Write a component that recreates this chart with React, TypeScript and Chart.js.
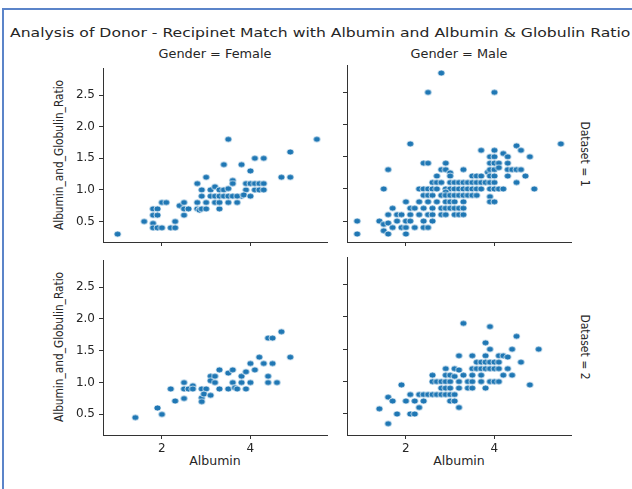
import React, { useEffect, useRef } from 'react';
import { Chart, registerables } from 'chart.js';

Chart.register(...registerables);

const titleText = 'Analysis of Donor - Recipinet Match with Albumin and Albumin & Globulin Ratio';
const colTitles = ['Gender = Female', 'Gender = Male'];
const rowTitles = ['Dataset = 1', 'Dataset = 2'];
const xLabel = 'Albumin';
const yLabel = 'Albumin_and_Globulin_Ratio';
const xTicks = [2, 4];
const yTicks = [0.5, 1.0, 1.5, 2.0, 2.5];
const xRange = [0.67, 5.73];
const yRange = [0.175, 2.925];

type Pt = [number, number];

const femaleDataset1: Pt[] = [
  [1.0, 0.3], [1.6, 0.5], [1.8, 0.7], [1.9, 0.7], [1.8, 0.6], [1.9, 0.6], [1.8, 0.47], [1.8, 0.4],
  [1.9, 0.4], [2.0, 0.8], [2.1, 0.8], [2.0, 0.4], [2.2, 0.4], [2.3, 0.4], [2.3, 0.5], [2.4, 0.75],
  [2.5, 0.8], [2.5, 0.6], [2.5, 0.7], [2.6, 0.7], [2.8, 1.1], [2.8, 0.7], [2.8, 0.8], [2.85, 0.68],
  [2.9, 1.0], [2.9, 0.9], [2.9, 0.7], [3.0, 1.2], [3.0, 0.8], [3.0, 0.7], [3.1, 1.0], [3.2, 1.05],
  [3.1, 0.9], [3.2, 0.9], [3.2, 0.8], [3.3, 1.0], [3.3, 0.9], [3.3, 0.7], [3.3, 0.8], [3.4, 1.4],
  [3.4, 1.0], [3.4, 0.9], [3.5, 1.8], [3.5, 1.02], [3.5, 0.9], [3.5, 0.8], [3.6, 1.15], [3.6, 1.1],
  [3.6, 0.9], [3.7, 0.8], [3.8, 1.4], [3.8, 0.9], [3.7, 0.9], [3.9, 1.0], [3.9, 1.1], [3.85, 0.92],
  [4.0, 1.3], [4.0, 1.1], [4.0, 0.9], [4.1, 1.5], [4.1, 1.0], [4.1, 1.1], [4.2, 1.1], [4.2, 1.0],
  [4.3, 1.5], [4.3, 1.1], [4.3, 1.0], [4.7, 1.2], [4.9, 1.6], [4.9, 1.2], [5.5, 1.8],
];

const maleDataset1: Pt[] = [
  [2.8, 2.8], [2.5, 2.5], [4.0, 2.5], [2.1, 1.7], [5.5, 1.7], [4.5, 1.67],
  [3.7, 1.6], [4.0, 1.6], [4.6, 1.6],
  [3.9, 1.5], [4.0, 1.5], [4.2, 1.55], [4.3, 1.5], [4.8, 1.5],
  [2.4, 1.4], [2.5, 1.4], [2.9, 1.4], [3.9, 1.4], [4.0, 1.4], [4.3, 1.4], [4.1, 1.4],
  [1.6, 1.3], [2.8, 1.3], [2.9, 1.3], [3.3, 1.3], [3.85, 1.26], [3.9, 1.3], [4.0, 1.3], [4.3, 1.3],
  [4.4, 1.3], [4.5, 1.3], [4.6, 1.3], [3.0, 1.25], [4.1, 1.33],
  [2.7, 1.2], [3.0, 1.2], [3.5, 1.2], [3.6, 1.2], [3.7, 1.2], [3.9, 1.2], [4.0, 1.2], [4.3, 1.2], [4.7, 1.2],
  [2.6, 1.1], [2.7, 1.1], [2.8, 1.1], [3.0, 1.1], [3.1, 1.1], [3.2, 1.1], [3.3, 1.1], [3.4, 1.1],
  [3.5, 1.1], [3.6, 1.1], [3.7, 1.1], [3.8, 1.1], [3.9, 1.1], [4.0, 1.1], [4.5, 1.1],
  [1.5, 1.0], [2.3, 1.0], [2.4, 1.0], [2.5, 1.0], [2.6, 1.0], [2.7, 1.0], [2.9, 1.0], [3.0, 1.0],
  [3.1, 1.0], [3.2, 1.0], [3.3, 1.0], [3.4, 1.0], [3.5, 1.0], [3.6, 1.0], [3.7, 1.0], [3.9, 1.0],
  [4.0, 1.0], [4.1, 1.0], [4.2, 1.0], [4.9, 1.0],
  [2.9, 0.95], [3.9, 0.88],
  [2.4, 0.9], [2.5, 0.9], [2.6, 0.9], [2.8, 0.9], [2.9, 0.9], [3.0, 0.9], [3.1, 0.9], [3.2, 0.9],
  [3.3, 0.9], [3.4, 0.9], [3.5, 0.9], [3.6, 0.9],
  [2.0, 0.8], [2.3, 0.8], [2.5, 0.8], [2.7, 0.8], [2.9, 0.8], [3.0, 0.8], [3.1, 0.8], [3.3, 0.8],
  [3.9, 0.8], [4.0, 0.8],
  [1.7, 0.7], [2.1, 0.7], [2.2, 0.7], [2.4, 0.7], [2.6, 0.7], [2.8, 0.7], [2.9, 0.7], [3.0, 0.7],
  [3.1, 0.7], [3.2, 0.7], [3.3, 0.7],
  [1.6, 0.6], [1.8, 0.6], [1.9, 0.6], [2.1, 0.6], [2.3, 0.6], [2.5, 0.6], [2.6, 0.6], [2.8, 0.6],
  [2.9, 0.6], [3.1, 0.6], [3.2, 0.6], [3.3, 0.6],
  [0.9, 0.5], [1.4, 0.5], [1.8, 0.5], [2.0, 0.5], [2.1, 0.5], [2.4, 0.5], [2.6, 0.5],
  [1.5, 0.45], [1.6, 0.47],
  [1.7, 0.4], [1.9, 0.4], [2.0, 0.4], [2.2, 0.4], [2.4, 0.4], [2.5, 0.4],
  [1.5, 0.35], [0.9, 0.3], [1.6, 0.3], [2.0, 0.3],
];

const femaleDataset2: Pt[] = [
  [1.4, 0.45], [1.9, 0.6], [2.0, 0.5], [2.2, 0.9], [2.3, 0.71], [2.5, 1.0], [2.5, 0.9], [2.5, 0.75],
  [2.6, 0.9], [2.7, 0.95], [2.7, 0.9], [2.9, 0.9], [2.9, 0.76], [2.9, 0.7], [3.0, 0.9], [2.95, 0.82],
  [3.1, 1.1], [3.1, 1.03], [3.1, 0.8], [3.2, 1.1], [3.2, 1.0], [3.3, 1.2], [3.3, 0.9], [3.5, 1.15],
  [3.5, 0.9], [3.6, 1.2], [3.6, 1.0], [3.65, 0.92], [3.7, 0.9], [3.8, 1.1], [3.8, 1.0], [3.9, 1.17],
  [3.9, 0.9], [4.0, 1.3], [4.0, 1.0], [4.1, 1.2], [4.2, 1.4], [4.3, 1.3], [4.4, 1.7], [4.4, 1.1],
  [4.4, 1.0], [4.5, 1.7], [4.5, 1.3], [4.6, 1.0], [4.7, 1.8], [4.9, 1.4],
];

const maleDataset2: Pt[] = [
  [3.3, 1.9], [3.9, 1.85], [4.5, 1.7], [3.8, 1.6],
  [3.9, 1.5], [4.4, 1.5], [5.0, 1.5],
  [3.2, 1.4], [3.5, 1.4], [3.8, 1.4], [4.1, 1.4], [4.2, 1.4], [4.3, 1.38],
  [3.6, 1.3], [3.7, 1.3], [3.8, 1.3], [3.9, 1.3], [4.0, 1.3], [4.1, 1.3], [4.6, 1.3],
  [2.9, 1.2], [3.1, 1.2], [3.2, 1.18], [3.5, 1.2], [3.6, 1.2], [3.7, 1.2], [3.8, 1.2], [3.9, 1.2],
  [4.0, 1.2], [4.1, 1.2], [4.3, 1.2],
  [2.6, 1.1], [2.9, 1.1], [3.0, 1.1], [3.1, 1.08], [3.3, 1.1], [3.5, 1.1], [3.7, 1.1], [4.2, 1.1], [4.4, 1.1],
  [2.6, 1.0], [2.7, 1.0], [2.8, 1.0], [2.9, 1.0], [3.0, 1.0], [3.2, 1.0], [3.4, 1.0], [3.5, 1.0],
  [3.7, 1.0], [3.9, 1.0], [4.0, 1.0], [4.1, 1.0],
  [1.9, 0.95], [4.8, 0.95],
  [2.8, 0.9], [2.9, 0.9], [3.0, 0.9], [3.2, 0.9], [3.4, 0.9], [3.5, 0.9], [3.8, 0.9],
  [2.1, 0.8], [2.3, 0.8], [2.4, 0.8], [2.5, 0.8], [2.6, 0.8], [2.7, 0.8], [2.8, 0.8], [2.9, 0.8],
  [3.0, 0.8], [3.1, 0.8],
  [1.6, 0.76], [1.7, 0.7], [2.0, 0.7], [2.2, 0.7], [2.4, 0.7], [3.0, 0.7], [3.1, 0.7],
  [2.3, 0.6], [3.2, 0.6], [1.4, 0.58],
  [1.8, 0.5], [2.1, 0.5], [2.2, 0.5], [1.6, 0.35],
];

const FONT = '"DejaVu Sans", sans-serif';
const INK = '#262626';
const LINE = '#333333';

type Rect = { l: number; t: number; r: number; b: number };

const PAD_L = 45;
const PAD_T = 8;
const PAD_R = 8;
const PAD_B = 25;

function makeDot(): HTMLCanvasElement {
  const c = document.createElement('canvas');
  c.width = 9;
  c.height = 8;
  const ctx = c.getContext('2d')!;
  ctx.beginPath();
  ctx.ellipse(4.5, 4, 3.6, 3.0, 0, 0, Math.PI * 2);
  ctx.fillStyle = '#1f77b4';
  ctx.fill();
  ctx.lineWidth = 0.7;
  ctx.strokeStyle = '#ffffff';
  ctx.stroke();
  return c;
}

function Panel({ data, rect, showX, showY }: { data: Pt[]; rect: Rect; showX: boolean; showY: boolean }) {
  const ref = useRef<HTMLCanvasElement>(null);
  const w = rect.r - rect.l + PAD_L + PAD_R;
  const h = rect.b - rect.t + PAD_T + PAD_B;
  useEffect(() => {
    const dot = makeDot();
    const chart = new Chart(ref.current!, {
      type: 'scatter',
      data: {
        datasets: [
          {
            data: data.map(([x, y]) => ({ x, y })),
            pointStyle: dot as any,
            pointRadius: 4,
            backgroundColor: '#1f77b4',
            borderColor: '#ffffff',
          },
        ],
      },
      options: {
        animation: false,
        responsive: false,
        maintainAspectRatio: false,
        events: [],
        layout: { padding: { left: 0, top: PAD_T, right: PAD_R, bottom: 0 } },
        plugins: { legend: { display: false }, tooltip: { enabled: false } },
        scales: {
          x: {
            type: 'linear',
            min: xRange[0],
            max: xRange[1],
            afterBuildTicks: (s: any) => {
              s.ticks = xTicks.map((v) => ({ value: v }));
            },
            afterFit: (s: any) => {
              s.height = PAD_B;
            },
            grid: { display: true, drawOnChartArea: false, drawTicks: true, tickLength: 4, color: LINE, lineWidth: 1 },
            border: { display: true, color: LINE, width: 1 },
            ticks: {
              display: showX,
              autoSkip: false,
              maxRotation: 0,
              padding: 3,
              color: INK,
              font: { family: FONT, size: 12 },
              callback: (v: any) => String(v),
            },
          },
          y: {
            type: 'linear',
            min: yRange[0],
            max: yRange[1],
            afterBuildTicks: (s: any) => {
              s.ticks = yTicks.map((v) => ({ value: v }));
            },
            afterFit: (s: any) => {
              s.width = PAD_L;
            },
            grid: { display: true, drawOnChartArea: false, drawTicks: true, tickLength: 4, color: LINE, lineWidth: 1 },
            border: { display: true, color: LINE, width: 1 },
            ticks: {
              display: showY,
              autoSkip: false,
              padding: 4,
              color: INK,
              font: { family: FONT, size: 12 },
              callback: (v: any) => Number(v).toFixed(1),
            },
          },
        },
      },
    });
    return () => chart.destroy();
  }, []);
  return (
    <canvas
      ref={ref}
      width={w}
      height={h}
      style={{ position: 'absolute', left: rect.l - PAD_L, top: rect.t - PAD_T, width: w, height: h }}
    />
  );
}

function Label({ text, cx, cy, size, sx = 1, rot = 0 }: { text: string; cx: number; cy: number; size: number; sx?: number; rot?: number }) {
  return (
    <div
      style={{
        position: 'absolute',
        left: cx,
        top: cy,
        transform: `translate(-50%, -50%) rotate(${rot}deg) scaleX(${sx})`,
        fontFamily: FONT,
        fontSize: size,
        lineHeight: 1,
        whiteSpace: 'nowrap',
        color: INK,
      }}
    >
      {text}
    </div>
  );
}

const panels: { data: Pt[]; rect: Rect; showX: boolean; showY: boolean }[] = [
  { data: femaleDataset1, rect: { l: 103, t: 65, r: 327, b: 242 }, showX: false, showY: true },
  { data: maleDataset1, rect: { l: 347, t: 65, r: 571, b: 242 }, showX: false, showY: false },
  { data: femaleDataset2, rect: { l: 103, t: 257, r: 327, b: 435 }, showX: true, showY: true },
  { data: maleDataset2, rect: { l: 347, t: 257, r: 571, b: 435 }, showX: true, showY: false },
];

export default function App() {
  return (
    <div style={{ position: 'absolute', left: 0, top: 0, width: 632, height: 489, overflow: 'hidden', background: '#fff' }}>
      <div
        style={{
          position: 'absolute',
          left: 2,
          top: 8,
          width: 800,
          height: 700,
          borderTop: '2px solid #5b84c9',
          borderLeft: '2px solid #5b84c9',
        }}
      />
      <div
        style={{
          position: 'absolute',
          left: 10,
          top: 33,
          transform: 'translateY(-50%) scaleX(1.25)',
          transformOrigin: '0 50%',
          fontFamily: FONT,
          fontSize: 12.5,
          lineHeight: 1,
          whiteSpace: 'nowrap',
          color: INK,
        }}
      >
        {titleText}
      </div>
      <Label text={colTitles[0]} cx={215} cy={55} size={11.5} sx={1.12} />
      <Label text={colTitles[1]} cx={459} cy={55} size={11.5} sx={1.12} />
      <Label text={rowTitles[0]} cx={584} cy={154} size={11.5} sx={0.94} rot={90} />
      <Label text={rowTitles[1]} cx={584} cy={347} size={11.5} sx={0.94} rot={90} />
      <Label text={yLabel} cx={60} cy={155} size={11.5} sx={0.92} rot={-90} />
      <Label text={yLabel} cx={60} cy={347} size={11.5} sx={0.92} rot={-90} />
      <Label text={xLabel} cx={215} cy={462} size={11.5} sx={1.09} />
      <Label text={xLabel} cx={459} cy={462} size={11.5} sx={1.09} />
      {panels.map((p, i) => (
        <Panel key={i} data={p.data} rect={p.rect} showX={p.showX} showY={p.showY} />
      ))}
    </div>
  );
}
